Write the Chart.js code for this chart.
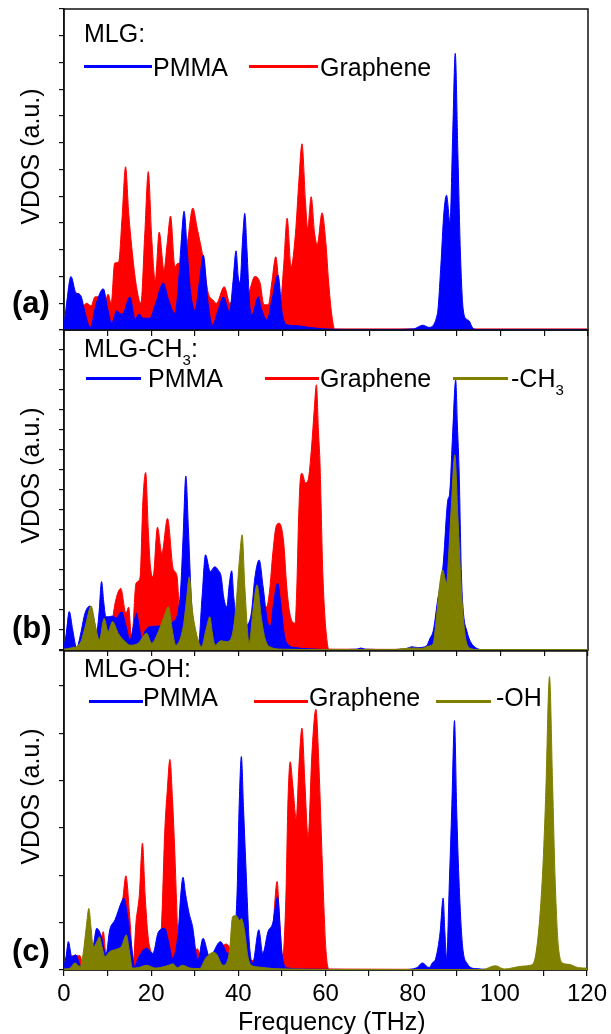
<!DOCTYPE html>
<html>
<head>
<meta charset="utf-8">
<script src="https://cdn.jsdelivr.net/npm/chart.js@4.4.1/dist/chart.umd.min.js"></script>
<style>
  body { margin: 0; background: #fff; width: 611px; height: 1034px; overflow: hidden; position: relative;
         font-family: "Liberation Sans", Arial, sans-serif; color: #000; }
  canvas { position: absolute; left: 0; }
  .t { position: absolute; font-size: 25px; line-height: 25px; white-space: nowrap; }
  .ln { position: absolute; height: 3px; }
  .ylab { position: absolute; width: 200px; height: 25px; font-size: 25px; line-height: 25px;
          text-align: center; transform: rotate(-90deg); white-space: nowrap; }
  .pl { position: absolute; font-size: 31px; line-height: 31px; font-weight: bold; }
  .t sub { font-size: 15px; vertical-align: -8px; line-height: 0; }
</style>
</head>
<body>
<canvas id="panelA" width="611" height="340" style="top:0px"></canvas>
<canvas id="panelB" width="611" height="340" style="top:320px"></canvas>
<canvas id="panelC" width="611" height="394" style="top:640px"></canvas>

<!-- panel (a) legend -->
<div class="t" style="left:84px;top:21px">MLG:</div>
<div class="ln" style="left:84px;top:65px;width:68px;background:#0000ff"></div>
<div class="t" style="left:153px;top:55px">PMMA</div>
<div class="ln" style="left:249px;top:65px;width:69px;background:#ff0000"></div>
<div class="t" style="left:320px;top:55px">Graphene</div>

<!-- panel (b) legend -->
<div class="t" style="left:84px;top:336px">MLG-CH<sub>3</sub>:</div>
<div class="ln" style="left:86px;top:377px;width:55px;background:#0000ff"></div>
<div class="t" style="left:148px;top:366px">PMMA</div>
<div class="ln" style="left:265px;top:377px;width:54px;background:#ff0000"></div>
<div class="t" style="left:320px;top:366px">Graphene</div>
<div class="ln" style="left:453px;top:377px;width:55px;background:#808000"></div>
<div class="t" style="left:511px;top:366px">-CH<sub>3</sub></div>

<!-- panel (c) legend -->
<div class="t" style="left:84px;top:656px">MLG-OH:</div>
<div class="ln" style="left:89px;top:700px;width:54px;background:#0000ff"></div>
<div class="t" style="left:143px;top:685px">PMMA</div>
<div class="ln" style="left:254px;top:700px;width:54px;background:#ff0000"></div>
<div class="t" style="left:309px;top:685px">Graphene</div>
<div class="ln" style="left:436px;top:700px;width:55px;background:#808000"></div>
<div class="t" style="left:496px;top:685px">-OH</div>

<!-- axis titles and panel tags -->
<div class="ylab" style="left:-70px;top:144px">VDOS (a.u.)</div>
<div class="ylab" style="left:-70px;top:463px">VDOS (a.u.)</div>
<div class="ylab" style="left:-70px;top:784px">VDOS (a.u.)</div>
<div class="pl" style="left:12px;top:287px">(a)</div>
<div class="pl" style="left:12px;top:612px">(b)</div>
<div class="pl" style="left:12px;top:935px">(c)</div>
<div class="t" style="left:238px;top:1009px">Frequency (THz)</div>

<script>
// tick labels on the shared frequency axis
const freqTicks = [0, 20, 40, 60, 80, 100, 120];

// [frequency THz, VDOS]
// (a) MLG
const aPmma = [[0,0.05],[0.6,0.5],[1.6,1.0],[2.7,0.7],[3.8,0.65],[4.9,0.3],[6.0,0.05],[7.4,0.5],[9.0,0.77],
  [10.0,0.4],[10.9,0.13],[12.1,0.36],[13.0,0.3],[13.6,0.32],[15.1,0.62],[16.3,0.2],[17.2,0.3],[18.1,0.22],
  [19.6,0.22],[21.0,0.5],[22.7,0.88],[24.0,0.55],[25.4,0.31],[26.1,0.75],[26.8,1.6],[27.5,2.22],[28.2,1.5],
  [29.0,0.7],[30.0,0.37],[31.0,0.9],[31.9,1.4],[33.0,0.5],[34.0,0.09],[35.2,0.35],[36.5,0.62],[37.9,0.34],
  [38.7,0.9],[39.4,1.48],[39.9,1.0],[40.3,0.88],[40.9,1.7],[41.4,2.18],[41.9,1.5],[42.5,0.5],[43.0,0.28],
  [44.5,0.62],[45.2,0.4],[46.5,0.19],[47.7,0.6],[49.0,1.03],[50.0,0.3],[51.0,0.1],[53.5,0.08],[56,0.05],
  [60,0.02],[65,0.01],[75,0.01],[80,0.02],[82.2,0.09],[83.5,0.05],[85.5,0.3],[86.3,1.2],[87.0,2.2],
  [87.6,2.52],[88.4,2.02],[89.0,3.6],[89.6,5.17],[90.2,3.3],[90.8,1.4],[91.4,0.4],[92.2,0.2],[92.8,0.17],
  [93.5,0.05],[94.5,0.01],[100,0.01],[120,0.01]];
const aGraphene = [[0,0.02],[1.5,0.3],[2.5,0.6],[3.3,0.69],[4.3,0.45],[5.2,0.5],[6.2,0.45],[7.1,0.62],
  [8.0,0.62],[9.0,0.35],[10.1,0.67],[10.8,0.5],[11.6,1.25],[12.5,1.27],[13.3,2.1],[14.1,3.05],[14.8,2.2],
  [15.5,1.56],[16.6,0.81],[17.6,0.5],[18.5,1.8],[19.3,2.96],[20.1,1.7],[20.9,0.93],[21.8,1.83],[22.9,1.12],
  [23.6,1.6],[24.4,2.13],[25.4,1.18],[26.1,1.25],[27.0,1.2],[28.2,1.6],[29.5,2.28],[30.5,1.9],[31.8,1.37],
  [33.0,0.7],[34.1,0.56],[34.9,0.5],[36.7,0.81],[38.0,0.5],[39.5,0.7],[41.0,0.6],[42.3,0.7],[43.7,1.0],
  [44.9,0.88],[45.8,0.47],[46.8,0.47],[47.6,0.9],[48.5,1.37],[49.6,0.56],[50.3,1.2],[51.1,2.09],[52.0,1.18],
  [53.0,1.8],[53.8,2.8],[54.5,3.48],[55.3,2.4],[55.8,1.9],[56.6,2.49],[57.4,1.8],[58.0,1.6],[59.1,2.19],
  [60.0,1.6],[60.6,0.9],[61.3,0.3],[62.0,0.02],[70,0.02],[120,0.02]];

// (b) MLG-CH3
const bPmma = [[0,0.05],[0.5,0.4],[1.2,0.96],[2.0,0.5],[2.9,0.05],[3.8,0.4],[4.8,0.92],[6.0,1.1],[6.8,0.8],
  [7.5,0.46],[8.0,0.9],[8.6,1.71],[9.1,1.2],[9.6,0.83],[10.3,0.83],[11.1,0.85],[12.0,0.8],[13.2,0.96],
  [14.2,0.6],[15.1,0.25],[15.9,0.6],[16.6,0.93],[17.2,0.6],[17.8,0.3],[18.7,0.5],[19.6,0.58],[22.0,0.6],
  [23.5,0.65],[25.0,0.71],[26.0,0.9],[26.7,1.5],[27.3,2.9],[27.9,4.35],[28.5,3.0],[29.2,1.2],[29.9,0.5],
  [30.8,0.17],[31.6,1.3],[32.4,2.38],[33.5,1.96],[34.5,2.08],[35.3,2.0],[36.0,1.83],[36.6,1.3],[37.3,1.08],
  [37.8,1.6],[38.4,1.98],[38.9,1.3],[39.5,0.75],[40.5,0.5],[41.8,0.6],[42.9,0.92],[43.7,1.8],[44.7,2.25],
  [45.6,1.58],[46.6,0.71],[47.3,0.6],[47.9,1.1],[48.9,1.67],[49.6,1.2],[50.5,0.35],[51.5,0.12],[53,0.06],
  [56,0.03],[62,0.01],[67,0.02],[68,0.05],[69,0.02],[75,0.01],[78.5,0.04],[79.7,0.08],[81,0.06],[83,0.1],
  [83.8,0.29],[84.6,0.5],[85.5,1.2],[86.8,2.1],[87.9,3.75],[88.3,3.9],[89.0,5.4],[89.7,6.75],[90.1,5.6],
  [90.5,4.42],[91.0,1.92],[91.5,0.9],[92.2,0.5],[92.9,0.25],[94.4,0.05],[96,0.01],[120,0.01]];
const bGraphene = [[0,0.01],[5,0.02],[9,0.05],[10.5,0.3],[11.7,1.17],[13.0,1.54],[14.2,0.92],[14.8,1.07],
  [15.5,0.25],[16.5,1.67],[17.4,1.8],[18.1,3.8],[18.7,4.44],[19.3,3.0],[19.8,2.08],[20.4,1.83],[21.4,3.07],
  [22.4,2.42],[23.7,3.29],[25.0,2.04],[25.9,1.83],[26.4,1.0],[27.0,0.4],[28,0.2],[30,0.1],[35,0.15],[40,0.2],
  [42.5,0.5],[44,0.8],[45.2,1.08],[46.4,1.08],[47.1,1.5],[47.8,2.4],[48.6,3.1],[49.3,3.17],[50.3,2.7],
  [51.0,1.6],[51.7,0.92],[52.9,0.67],[53.3,1.5],[53.7,3.2],[54.1,4.25],[54.5,4.42],[55.3,4.18],[55.9,4.25],
  [56.7,5.08],[57.3,6.0],[57.8,6.63],[58.3,5.4],[58.6,4.75],[59.3,1.83],[60.3,0.17],[60.8,0.02],[120,0.01]];
const bCh3 = [[0,0.02],[1.5,0.05],[3.7,0.17],[4.9,0.6],[6.2,1.1],[7.2,0.6],[8.1,0.25],[9.2,0.79],[10.1,0.46],
  [11.1,0.71],[12.5,0.4],[14.0,0.21],[15.1,0.12],[17.0,0.17],[18.9,0.42],[20.1,0.17],[21.6,0.46],[22.8,0.8],
  [23.9,1.08],[24.8,0.5],[25.6,0.12],[27.3,0.58],[28.0,1.2],[28.7,1.83],[29.3,1.1],[30.0,0.58],[31.5,0.08],
  [32.5,0.5],[33.4,0.83],[34.0,0.4],[34.6,0.12],[35.9,0.23],[37.2,0.21],[38.4,0.33],[39.3,1.0],[40.2,2.3],
  [40.8,2.88],[41.4,1.6],[42.4,0.17],[43.3,1.0],[44.2,1.63],[45.2,0.8],[46.0,0.3],[47.1,0.08],[50,0.02],
  [60,0.01],[75,0.01],[79.9,0.05],[82,0.04],[83.5,0.1],[84.5,0.15],[85.3,0.83],[86.0,1.6],[86.7,2.0],
  [87.6,1.67],[88.2,2.6],[88.7,3.58],[89.5,4.88],[90.2,3.33],[91.0,1.5],[91.8,0.42],[92.9,0.05],[95,0.01],
  [120,0.01]];

// (c) MLG-OH
const cPmma = [[0,0.05],[0.5,0.3],[1.0,0.6],[1.8,0.28],[2.7,0.32],[3.7,0.1],[4.5,0.05],[5.5,0.1],[6.7,0.49],
  [7.5,0.88],[8.6,0.7],[9.6,0.32],[10.5,0.85],[11.7,1.06],[13.2,1.44],[13.7,1.52],[14.7,1.06],[15.5,0.5],
  [16.2,0.07],[17.0,0.25],[18.9,0.46],[20.4,0.35],[21.6,0.79],[23.1,0.88],[24.0,0.6],[24.9,0.25],[26.2,0.8],
  [26.8,1.6],[27.3,1.96],[27.9,1.6],[28.7,1.2],[29.5,0.92],[30.7,0.21],[31.9,0.67],[33.4,0.28],[35.9,0.6],
  [37.6,0.35],[39.0,0.6],[39.7,1.6],[40.2,3.5],[40.7,4.51],[41.2,3.4],[41.8,2.05],[42.5,0.6],[43.3,0.15],
  [44.7,0.85],[45.6,0.35],[46.8,0.81],[47.9,0.99],[49.0,1.55],[50.0,0.35],[51.0,0.05],[55,0.02],[65,0.01],
  [78,0.01],[81,0.05],[82.2,0.15],[83.8,0.05],[84.5,0.15],[85.3,0.25],[86.3,0.8],[87.0,1.52],[87.4,0.8],
  [87.8,0.25],[88.4,1.8],[89.0,3.5],[89.6,5.27],[90.1,3.4],[90.6,1.97],[91.4,0.56],[92.5,0.14],[94.4,0.03],
  [100,0.01],[120,0.01]];
const cGraphene = [[0,0.02],[1.0,0.2],[2.0,0.3],[3.7,0.3],[4.3,0.1],[7.0,0.2],[8.3,0.5],[9.0,0.81],[9.8,0.2],
  [11,0.3],[12.5,0.9],[13.5,1.5],[14.2,1.99],[15.1,1.1],[15.9,0.18],[16.5,0.99],[17.3,1.6],[18.0,2.68],
  [18.6,1.6],[19.3,0.7],[20.1,0.35],[21.0,0.2],[21.8,0.5],[22.4,0.99],[23.1,2.89],[23.7,3.8],[24.3,4.45],
  [24.9,3.6],[25.4,2.54],[26.2,0.63],[27.0,0.2],[29,0.2],[30.6,0.45],[31.5,0.2],[34,0.3],[37.3,0.55],[39,0.3],
  [43,0.2],[46,0.4],[47.9,0.9],[48.9,1.87],[49.5,1.0],[50.2,0.3],[50.9,1.5],[51.4,3.6],[51.9,4.4],[52.5,3.9],
  [53.3,3.2],[53.9,4.3],[54.6,5.11],[55.3,3.9],[56.0,2.8],[56.9,4.6],[57.8,5.51],[58.5,4.3],[59.3,2.18],
  [60.1,0.42],[60.9,0.02],[120,0.01]];
const cOh = [[0,0.02],[1.4,0.04],[2.5,0.15],[3.7,0.07],[4.4,0.35],[5.1,0.9],[5.7,1.3],[6.2,0.9],[6.7,0.49],
  [7.7,0.63],[8.1,0.7],[8.7,0.5],[9.4,0.28],[10.5,0.39],[12.1,0.44],[13.2,0.5],[14.3,0.74],[15.0,0.4],
  [15.7,0.04],[17,0.05],[19,0.1],[21,0.04],[24,0.1],[25,0.13],[26,0.05],[27.2,0.1],[29,0.04],[31.1,0.03],
  [32.5,0.25],[34.2,0.37],[34.9,0.35],[36.5,0.1],[37.3,0.15],[38.0,0.42],[38.7,1.13],[39.5,1.15],[40.3,1.05],
  [40.7,1.09],[41.4,0.85],[42.2,0.28],[43,0.1],[45,0.06],[48,0.03],[52,0.02],[60,0.01],[80,0.01],[96,0.01],
  [99,0.09],[101,0.02],[105.1,0.08],[107,0.1],[108.2,0.3],[109.7,1.85],[110.5,3.6],[111.4,6.2],[112.1,3.96],
  [112.7,1.9],[113.5,0.44],[114.6,0.14],[115.8,0.12],[118,0.05],[120,0.04]];

const BLUE = '#0000ff', RED = '#ff0000', OLIVE = '#808000';
const AXIS = '#111111';
const FONT = '"Liberation Sans", Arial, sans-serif';

// frame around the plot area, drawn under the data like the original
const framePlugin = {
    id: 'frame',
    beforeDatasetsDraw(chart) {
        const a = chart.chartArea;
        const ctx = chart.ctx;
        ctx.save();
        ctx.strokeStyle = AXIS;
        ctx.lineWidth = 1.5;
        ctx.strokeRect(a.left, a.top, a.right - a.left, a.bottom - a.top);
        ctx.restore();
    }
};

function areaSet(points, color, order) {
    return {
        data: points.map(p => ({ x: p[0], y: p[1] })),
        borderColor: color,
        backgroundColor: color,
        borderWidth: 1,
        pointRadius: 0,
        fill: 'origin',
        cubicInterpolationMode: 'monotone',
        order: order
    };
}

function makePanel(id, datasets, yMax, yStep, padTop, xHeight, showLabels) {
    return new Chart(document.getElementById(id), {
        type: 'line',
        data: { datasets: datasets },
        options: {
            responsive: false,
            animation: false,
            events: [],
            layout: { padding: { top: padTop, right: 23, left: 0, bottom: 0 } },
            plugins: { legend: { display: false }, tooltip: { enabled: false } },
            scales: {
                x: {
                    type: 'linear', min: 0, max: 120,
                    afterFit: function(s) { s.height = xHeight; },
                    border: { display: true, color: AXIS, width: 1.5 },
                    grid: { display: true, drawOnChartArea: false, drawTicks: true, tickLength: 6, color: AXIS, lineWidth: 1.2 },
                    ticks: {
                        display: showLabels, stepSize: 10, autoSkip: false, maxRotation: 0, padding: 4,
                        color: '#000', font: { family: FONT, size: 24 },
                        callback: function(v) { return freqTicks.includes(v) ? String(v) : ''; }
                    }
                },
                y: {
                    min: 0, max: yMax,
                    afterFit: function(s) { s.width = 64; },
                    border: { display: true, color: AXIS, width: 1.5 },
                    grid: { display: true, drawOnChartArea: false, drawTicks: true, tickLength: 5, color: AXIS, lineWidth: 1.2 },
                    ticks: { display: false, stepSize: yStep }
                }
            }
        },
        plugins: [framePlugin]
    });
}

makePanel('panelA', [areaSet(aPmma, BLUE, 2), areaSet(aGraphene, RED, 3)], 6, 0.5, 9, 10, false);
makePanel('panelB', [areaSet(bCh3, OLIVE, 1), areaSet(bPmma, BLUE, 2), areaSet(bGraphene, RED, 3)], 8, 0.5, 10, 10, false);
makePanel('panelC', [areaSet(cOh, OLIVE, 1), areaSet(cPmma, BLUE, 2), areaSet(cGraphene, RED, 3)], 6.74, 1, 11, 64, true);
</script>
</body>
</html>
